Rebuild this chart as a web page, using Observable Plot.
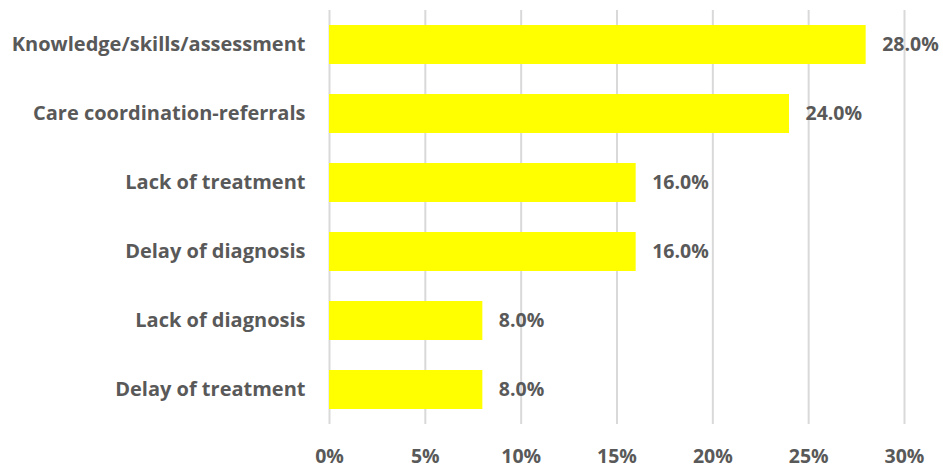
<!DOCTYPE html>
<html>
<head>
<meta charset="utf-8">
<script src="https://cdn.jsdelivr.net/npm/d3@7"></script>
<script src="https://cdn.jsdelivr.net/npm/@observablehq/plot@0.6"></script>
<style>
  html, body { margin: 0; padding: 0; background: #fff; }
  #chart svg { display: block; }
</style>
</head>
<body>
<div id="chart"></div>
<script>
const categories = ["Knowledge/skills/assessment", "Care coordination-referrals", "Lack of treatment", "Delay of diagnosis", "Lack of diagnosis", "Delay of treatment"];
const values = [0.28, 0.24, 0.16, 0.16, 0.08, 0.08];
const xTicks = [0, 0.05, 0.10, 0.15, 0.20, 0.25, 0.30];

const data = categories.map((c, i) => ({category: c, value: values[i]}));
const font = "'Open Sans', Lato, sans-serif";
const textColor = "#595959";
const fs = 20;

const chart = Plot.plot({
  width: 943,
  height: 468,
  marginLeft: 329,
  marginRight: 39,
  marginTop: 10,
  marginBottom: 44,
  style: {fontFamily: font, fontSize: fs + "px", fontWeight: "bold", color: textColor, background: "#fff"},
  x: {domain: [0, 0.30], axis: null, label: null},
  y: {domain: categories, paddingInner: 0.43, paddingOuter: 0.215, axis: null, label: null},
  marks: [
    Plot.gridX(xTicks, {stroke: "#d9d9d9", strokeOpacity: 1, strokeWidth: 2}),
    Plot.axisX(xTicks, {tickSize: 0, tickPadding: 25, label: null, tickFormat: d => Math.round(d * 100) + "%", fill: textColor, fontSize: 19.5, fontWeight: "bold"}),
    Plot.axisY({tickSize: 0, tickPadding: 24, label: null, fill: textColor, fontSize: fs, fontWeight: "bold"}),
    Plot.barX(data, {x: "value", y: "category", fill: "#ffff00"}),
    Plot.text(data, {x: "value", y: "category", text: d => (d.value * 100).toFixed(1) + "%", textAnchor: "start", dx: 16, fill: textColor, fontSize: 19.5, fontWeight: "bold"})
  ]
});
document.getElementById("chart").appendChild(chart);
</script>
</body>
</html>
